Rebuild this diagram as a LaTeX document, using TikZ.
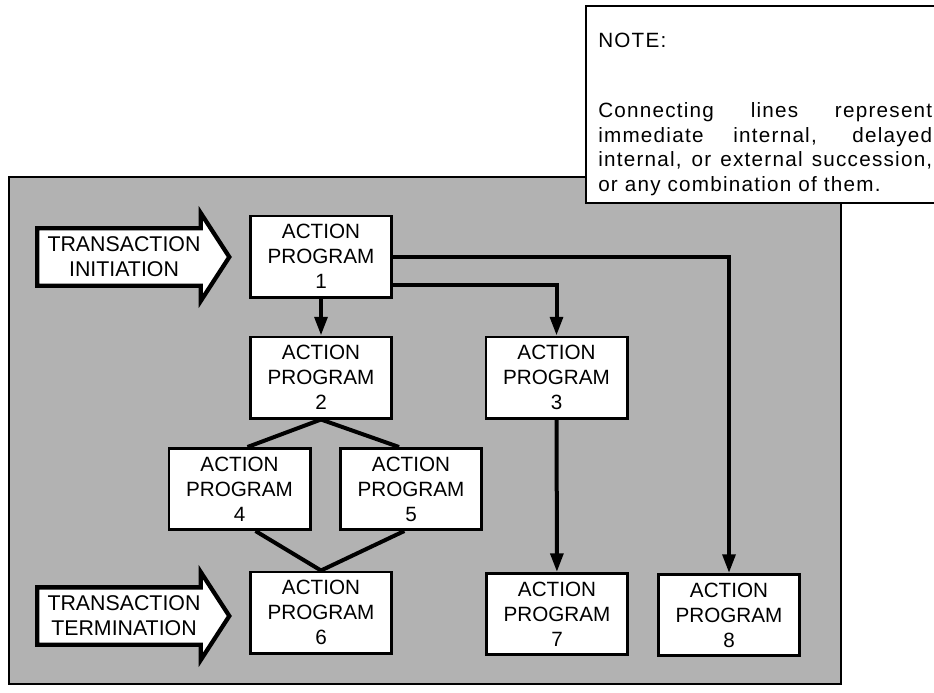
\documentclass[tikz,border=0pt]{standalone}
\usepackage{fontspec}
\setmainfont{Liberation Sans}
\newfontfamily\notefont{Liberation Sans}[LetterSpace=6]
\usetikzlibrary{arrows.meta,shapes.arrows}

\begin{document}
\begin{tikzpicture}[x=0.75pt, y=-0.75pt,
    prog/.style = {draw, line width=2pt, fill=white, minimum width=106pt,
        minimum height=61pt, inner sep=0pt, align=center,
        font=\fontsize{15.5}{18.75}\selectfont},
    bigarrow/.style = {single arrow, draw, line width=3.2pt, fill=white,
        align=center, inner sep=2pt, minimum height=144pt, minimum width=66pt,
        single arrow head extend=10pt, single arrow tip angle=114,
        font=\fontsize{16}{18.75}\selectfont},
    flow/.style = {line width=3pt, -{Triangle[length=14pt,width=9.5pt]}},
    link/.style = {line width=3pt}]
    \useasboundingbox (0,0) rectangle (934,692);
    \clip (0,0) rectangle (934,692);

    % Shaded frame
    \draw[line width=1.6pt, fill=black!30] (9,177) rectangle (841,684);

    % Note
    \node[draw, line width=1.6pt, fill=white, anchor=north west,
        minimum width=270pt, minimum height=148pt] (note) at (585,5) {};
    \node[anchor=north west, inner sep=0pt, text width=250.5pt, align=justify,
        font=\notefont\fontsize{15.5}{18.4}\selectfont] (notetxt) at (598,33)
        {NOTE:\par\vspace{34pt}Connecting lines represent\linebreak
         immediate internal, delayed\linebreak
         internal, or external succession,\linebreak
         or any combination of them.};

    % Action programs
    \node[prog] (ap1) at (321,256.5) {ACTION\\PROGRAM\\1};
    \node[prog] (ap2) at (321,377.5) {ACTION\\PROGRAM\\2};
    \node[prog] (ap3) at (556.5,377.5) {ACTION\\PROGRAM\\3};
    \node[prog] (ap4) at (239.5,489) {ACTION\\PROGRAM\\4};
    \node[prog] (ap5) at (411,489) {ACTION\\PROGRAM\\5};
    \node[prog] (ap6) at (321,612.5) {ACTION\\PROGRAM\\6};
    \node[prog] (ap7) at (557,614) {ACTION\\PROGRAM\\7};
    \node[prog] (ap8) at (729,615) {ACTION\\PROGRAM\\8};

    % Transaction arrows
    \node[bigarrow] (init) at (124,257) {TRANSACTION\\INITIATION};
    \node[bigarrow] (term) at (124,616) {TRANSACTION\\TERMINATION};

    % Connecting lines
    \draw[flow] (ap1) -- (ap2);
    \draw[flow] ([yshift=-21pt]ap1.east) -| (ap3);
    \draw[flow] (ap1.east) -| (ap8);
    \draw[flow] (ap3) -- (ap7);
    \draw[link] (ap2.south) -- ([xshift=6pt]ap4.north);
    \draw[link] (ap2.south) -- ([xshift=-9pt]ap5.north);
    \draw[link] ([xshift=12pt]ap4.south) -- (ap6.north);
    \draw[link] ([xshift=-5pt]ap5.south) -- (ap6.north);
\end{tikzpicture}
\end{document}
